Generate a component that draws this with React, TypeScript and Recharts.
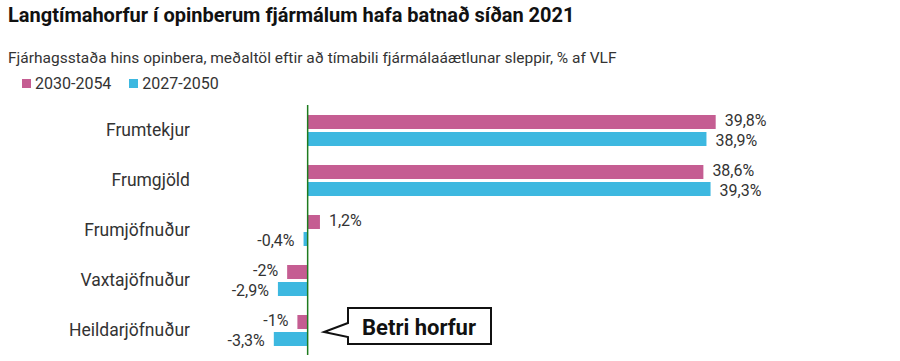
import { BarChart, Bar, XAxis, YAxis, ReferenceLine, LabelList } from "recharts";

const categories = ["Frumtekjur", "Frumgjöld", "Frumjöfnuður", "Vaxtajöfnuður", "Heildarjöfnuður"];
const series2030 = [39.8, 38.6, 1.2, -2, -1];
const series2027 = [38.9, 39.3, -0.4, -2.9, -3.3];
const seriesNames = ["2030-2054", "2027-2050"];

const PINK = "#c55d92";
const BLUE = "#3db8e0";
const FONT = "Roboto, 'Noto Sans', sans-serif";

const data = categories.map((name, i) => ({
  name,
  a: series2030[i],
  b: series2027[i],
}));

const fmt = (v: number) => String(v).replace(".", ",") + "%";

// dy nudges the two labels of a pair apart a little so they don't collide
const makeLabel = (dy: number) => (props: any) => {
  const { x, y, width, height, value } = props;
  const end = Number(x) + Number(width);
  const neg = Number(value) < 0;
  return (
    <text
      x={neg ? Math.min(end, Number(x)) - 9 : end + 9}
      y={Number(y) + Number(height) / 2 + dy}
      textAnchor={neg ? "end" : "start"}
      dominantBaseline="central"
      fontSize={16}
      fill="#333"
      fontFamily={FONT}
    >
      {fmt(Number(value))}
    </text>
  );
};

export default function App() {
  return (
    <div style={{ position: "relative", width: 900, height: 361, background: "#fff", fontFamily: FONT }}>
      <style>{"body{margin:0}"}</style>
      <div style={{ position: "absolute", left: 8, top: 3, fontSize: 20, fontWeight: 700, color: "#111" }}>
        Langtímahorfur í opinberum fjármálum hafa batnað síðan 2021
      </div>
      <div style={{ position: "absolute", left: 8, top: 49, fontSize: 15.5, color: "#333" }}>
        Fjárhagsstaða hins opinbera, meðaltöl eftir að tímabili fjármálaáætlunar sleppir, % af VLF
      </div>
      <div style={{ position: "absolute", left: 22, top: 74, fontSize: 16, color: "#333", display: "flex", gap: 18 }}>
        {seriesNames.map((n, i) => (
          <span key={n} style={{ display: "flex", alignItems: "center" }}>
            <span style={{ width: 9, height: 9, background: i === 0 ? PINK : BLUE, marginRight: 4, display: "inline-block" }} />
            {n}
          </span>
        ))}
      </div>
      <div style={{ position: "absolute", left: 0, top: 0 }}>
        <BarChart
          width={900}
          height={361}
          data={data}
          layout="vertical"
          margin={{ top: 105, right: 131, bottom: 6, left: 0 }}
          barSize={14}
          barGap={3}
        >
          <XAxis type="number" domain={[-10.5, 45]} hide />
          <YAxis
            type="category"
            dataKey="name"
            width={200}
            axisLine={false}
            tickLine={false}
            tickSize={0}
            tickMargin={10}
            tick={{ fill: "#333", fontSize: 17.5, fontFamily: FONT }}
          />
          <Bar dataKey="a" name={seriesNames[0]} fill={PINK} isAnimationActive={false}>
            <LabelList dataKey="a" content={makeLabel(-1.5)} />
          </Bar>
          <Bar dataKey="b" name={seriesNames[1]} fill={BLUE} isAnimationActive={false}>
            <LabelList dataKey="b" content={makeLabel(1.5)} />
          </Bar>
          <ReferenceLine x={0} stroke="#1e7b1e" strokeWidth={1.5} ifOverflow="extendDomain" />
        </BarChart>
      </div>
      <svg style={{ position: "absolute", left: 0, top: 0 }} width={900} height={361}>
        <path
          d="M348,308 L491,308 L491,344 L348,344 L348,337 L324,332 L348,323 Z"
          fill="#fff"
          stroke="#111"
          strokeWidth={2}
          strokeLinejoin="miter"
        />
        <text x={419} y={327} textAnchor="middle" dominantBaseline="central" fontSize={22} fontWeight={700} fill="#111" fontFamily={FONT}>
          Betri horfur
        </text>
      </svg>
    </div>
  );
}
